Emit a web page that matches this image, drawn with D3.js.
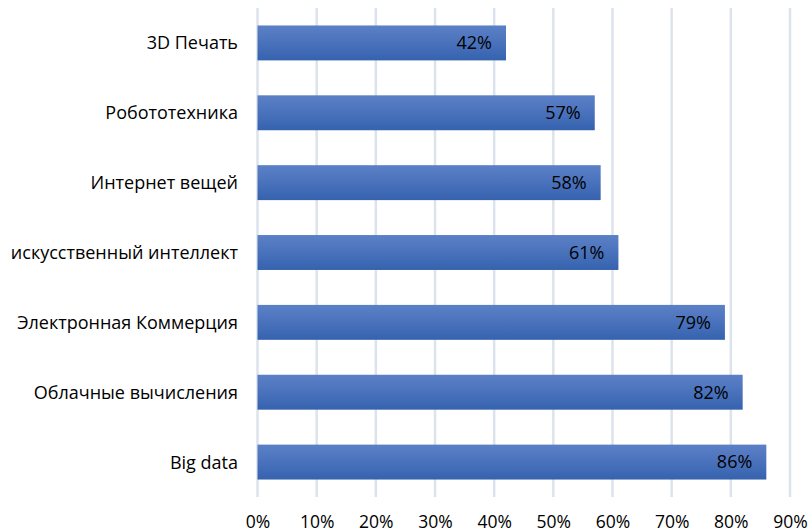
<!DOCTYPE html>
<html><head><meta charset="utf-8">
<script src="https://cdn.jsdelivr.net/npm/d3@7"></script>
<style>body{margin:0;background:#fff}svg{display:block}text{font-family:"Open Sans",sans-serif;fill:#000}</style>
</head><body><svg id="c" width="812" height="532"></svg>
<script>
const categories = ["3D Печать","Робототехника","Интернет вещей","искусственный интеллект","Электронная Коммерция","Облачные вычисления","Big data"];
const values = [0.42,0.57,0.58,0.61,0.79,0.82,0.86];
const tickValues = [0,0.1,0.2,0.3,0.4,0.5,0.6,0.7,0.8,0.9];

const svg = d3.select("#c");
const pLeft = 257.5, pRight = 790, pTop = 8, pBottom = 497;
const x = d3.scaleLinear().domain([0,0.9]).range([pLeft,pRight]);
const y = d3.scaleBand().domain(categories).range([pTop,pBottom]).paddingInner(0.5).paddingOuter(0.25);

const defs = svg.append("defs");
const g = defs.append("linearGradient").attr("id","bg").attr("x1",0).attr("x2",0).attr("y1",0).attr("y2",1);
g.append("stop").attr("offset","0%").attr("stop-color","#5b80c6");
g.append("stop").attr("offset","50%").attr("stop-color","#4a72bc");
g.append("stop").attr("offset","100%").attr("stop-color","#3562ae");

svg.append("g").selectAll("line").data(tickValues).join("line")
  .attr("x1",d=>x(d)).attr("x2",d=>x(d)).attr("y1",pTop).attr("y2",pBottom)
  .attr("stroke","#dce3ec").attr("stroke-width",2.5);

svg.append("g").selectAll("rect").data(values).join("rect")
  .attr("x",x(0)).attr("y",(d,i)=>y(categories[i]))
  .attr("width",d=>x(d)-x(0)).attr("height",y.bandwidth())
  .attr("fill","url(#bg)");

svg.append("g").selectAll("text").data(values).join("text")
  .attr("x",d=>x(d)-14).attr("y",(d,i)=>y(categories[i])+y.bandwidth()/2)
  .attr("dy","0.35em").attr("text-anchor","end").attr("font-size",18)
  .text(d=>Math.round(d*100)+"%");

svg.append("g").selectAll("text").data(categories).join("text")
  .attr("x",238).attr("y",d=>y(d)+y.bandwidth()/2).attr("dy","0.36em")
  .attr("text-anchor","end").attr("font-size",18).text(d=>d);

const ax = d3.axisBottom(x).tickValues(tickValues).tickFormat(d3.format(".0%")).tickSize(0).tickPadding(0);
const axg = svg.append("g").attr("transform",`translate(0,${pBottom})`).call(ax);
axg.select(".domain").remove();
axg.selectAll("text").attr("y",31).attr("dy",null).attr("font-size",17.5).style("font-family","'Open Sans',sans-serif").attr("fill","#000");
</script></body></html>
